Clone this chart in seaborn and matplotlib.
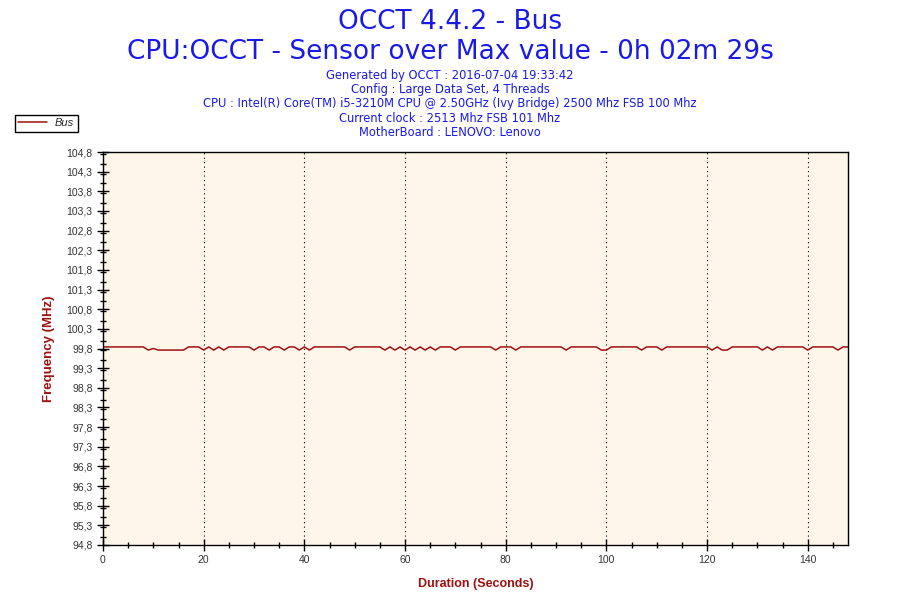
import numpy as np
import matplotlib
matplotlib.use("Agg")
import matplotlib.pyplot as plt
import pandas as pd
import seaborn as sns
from matplotlib.ticker import MultipleLocator, FuncFormatter

# levels (MHz)
H = 99.84
L = 99.76
M = 99.80

# one sample per second, 0..148 s
bus = ([H] * 9 + [L, M] + [L] * 6 + [H] * 3 + [L, H, L, H, L] + [H] * 5
       + [L, H, H, L, H, H, L, H, H, L, H, L] + [H] * 7 + [L] + [H] * 6
       + [L, H, L, H, L, H, L, H, L, H, L] + [H] * 3 + [L] + [H] * 7
       + [L] + [H] * 3 + [L] + [H] * 9 + [L] + [H] * 6 + [L, L] + [H] * 6
       + [L] + [H] * 3 + [L] + [H] * 9 + [L, H, L, L] + [H] * 6
       + [L, H, L] + [H] * 6 + [L] + [H] * 5 + [L, H, H])
seconds = list(range(len(bus)))

title1 = "OCCT 4.4.2 - Bus"
title2 = "CPU:OCCT - Sensor over Max value - 0h 02m 29s"
info = ["Generated by OCCT : 2016-07-04 19:33:42",
        "Config : Large Data Set, 4 Threads",
        "CPU : Intel(R) Core(TM) i5-3210M CPU @ 2.50GHz (Ivy Bridge) 2500 Mhz FSB 100 Mhz",
        "Current clock : 2513 Mhz FSB 101 Mhz",
        "MotherBoard : LENOVO: Lenovo"]

df = pd.DataFrame({"Duration": seconds, "Bus": bus})

sns.set_theme(style="ticks")
plt.rcParams['font.family'] = ['DejaVu Sans']

fig = plt.figure(figsize=(9, 6), dpi=100)
ax = fig.add_axes([103/900, 55/600, 745/900, 393/600])
ax.set_facecolor("#fdf6e9")

sns.lineplot(data=df, x="Duration", y="Bus", color="#a01010", lw=1.1,
             label="Bus", ax=ax)

ax.set_xlim(0, 148)
ax.set_ylim(94.8, 104.8)
ax.xaxis.set_major_locator(MultipleLocator(20))
ax.xaxis.set_minor_locator(MultipleLocator(5))
ax.set_yticks(np.arange(94.8, 104.81, 0.5))
ax.yaxis.set_minor_locator(MultipleLocator(0.25))
ax.yaxis.set_major_formatter(FuncFormatter(lambda v, p: f"{v:.1f}".replace(".", ",")))
ax.tick_params(which="major", direction="inout", length=9, width=1,
               labelsize=7.5, labelcolor="#333333", color="black", pad=3)
ax.tick_params(which="minor", direction="inout", length=5, width=1, color="black")
for lab in ax.get_xticklabels() + ax.get_yticklabels():
    lab.set_family("Liberation Sans")
ax.grid(axis="x", which="major", color="black", linestyle=(0, (1, 3)), lw=0.8)
for s in ax.spines.values():
    s.set_color("black")
    s.set_linewidth(1)

ax.set_xlabel("Duration (Seconds)", color="#a01010", fontweight="bold", fontsize=9,
              family="Liberation Sans", labelpad=9)
ax.set_ylabel("Frequency (MHz)", color="#a01010", fontweight="bold", fontsize=9.5,
              family="Liberation Sans", labelpad=8)

fig.text(0.5, 1 - 22/600, title1, ha="center", va="center", color="#1a1ae6", fontsize=19)
fig.text(0.5, 1 - 52/600, title2, ha="center", va="center", color="#1a1ae6", fontsize=19)
for i, line in enumerate(info):
    fig.text(0.5, 1 - (76 + 14*i)/600, line, ha="center", va="center",
             color="#1a1ae6", fontsize=8.3)

leg = ax.legend(loc="upper left", bbox_to_anchor=(15/900, 1 - 115/600),
                bbox_transform=fig.transFigure, frameon=True, fancybox=False,
                edgecolor="black", framealpha=1, fontsize=8, borderpad=0.3,
                handlelength=2.6, handletextpad=0.7, borderaxespad=0,
                prop={"family": "Liberation Sans", "style": "italic", "size": 8})
leg.get_frame().set_linewidth(1)

fig.savefig("out.png", dpi=100, facecolor="white")
